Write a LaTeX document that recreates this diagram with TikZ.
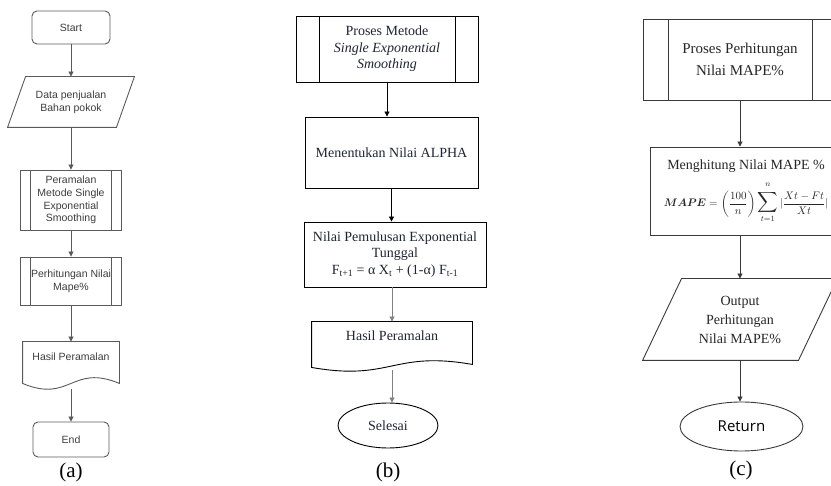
\documentclass[tikz,border=0pt]{standalone}
\usepackage{fontspec}
\setmainfont{Liberation Serif}
\newfontfamily\arialfont{Liberation Sans}
\newfontfamily\returnfont{Open Sans}
\usepackage{amsmath}
\usepackage{graphicx}
\usetikzlibrary{shapes.geometric,arrows.meta}

\definecolor{linea}{HTML}{5A5A5A}
\definecolor{texta}{HTML}{3C3C3C}
\definecolor{textb}{HTML}{1E2433}
\definecolor{linec}{HTML}{3A3A3A}

\tikzset{
  procbox/.style={draw, rectangle, inner sep=0pt, align=center},
  textbody/.style={inner sep=0pt, align=center},
  subproc/.style={procbox,
    path picture={
      \draw ([xshift=#1]path picture bounding box.north west) --
        ([xshift=#1]path picture bounding box.south west);
      \draw ([xshift=-#1]path picture bounding box.north east) --
        ([xshift=-#1]path picture bounding box.south east);
    }},
  flow/.style={-{Triangle[length=5pt,width=5pt]}},
  fonta/.style={font=\arialfont\fontsize{10.5}{12.7}\selectfont, text=texta},
  fontb/.style={font=\fontsize{14}{16.5}\selectfont, text=textb},
  fontc/.style={font=\fontsize{14}{19}\selectfont, text=black!85},
  caption/.style={inner sep=0pt, font=\fontsize{21}{24}\selectfont},
}

\begin{document}
\begin{tikzpicture}[x=1pt,y=-1pt,line width=0.9pt]
\useasboundingbox (0,0) rectangle (831,486);
\clip (0,0) rectangle (831,486);

% (a) Flowchart utama
\begin{scope}[draw=linea]
	\node[procbox, fonta, rounded corners=5pt, minimum width=78pt, minimum height=33pt] (startA) at (71,27.5) {Start};
	\node[textbody, fonta, minimum width=108pt, minimum height=50pt] (dataA) at (71,102) {Data penjualan\\Bahan pokok};
	\draw ([xshift=-9pt]dataA.south west) -- ([xshift=9pt]dataA.north west) --
		([xshift=9pt]dataA.north east) -- ([xshift=-9pt]dataA.south east) -- cycle;
	\node[subproc=10pt, fonta, minimum width=101pt, minimum height=60pt] (ramalA) at (71,200) {Peramalan\\Metode Single\\Exponential\\Smoothing};
	\node[subproc=10pt, fonta, minimum width=101pt, minimum height=48pt] (mapeA) at (71,281) {Perhitungan Nilai\\Mape\%};
	\node[textbody, fonta, minimum width=96pt, minimum height=30pt] (hasilA) at (71,357) {Hasil Peramalan};
	\draw (hasilA.north west) -- ([yshift=-11pt]hasilA.south west)
		.. controls +(48,20) and +(-48,-20) .. ([yshift=-11pt]hasilA.south east) --
		(hasilA.north east) -- cycle;
	\node[procbox, fonta, rounded corners=5pt, minimum width=76pt, minimum height=35pt] (endA) at (71,439.5) {End};

	\draw[flow, linea] (startA) -- (dataA);
	\draw[flow, linea] (dataA) -- (ramalA);
	\draw[flow, linea] (ramalA) -- (mapeA);
	\draw[flow, linea] (mapeA) -- (hasilA.north);
	\draw[flow, linea] ([yshift=-17pt]hasilA.south) -- (endA);
\end{scope}
\node[caption] (capA) at (71,472) {(a)};

% (b) Proses metode single exponential smoothing
\node[subproc=23pt, fontb, minimum width=182pt, minimum height=66pt] (procB) at (387,49) {Proses Metode\\\textit{Single Exponential}\\\textit{Smoothing}};
\node[procbox, fontb, minimum width=173pt, minimum height=71pt] (alphaB) at (391.5,152.5) {Menentukan Nilai ALPHA};
\node[procbox, fontb, minimum width=182pt, minimum height=65pt] (nilaiB) at (395,254.5) {Nilai Pemulusan Exponential\\Tunggal\\F\textsubscript{t+1} = α X\textsubscript{t} + (1-α) F\textsubscript{t-1}};
\node[textbody, fontb, minimum width=160pt, minimum height=28pt] (hasilB) at (392,336) {Hasil Peramalan};
\draw (hasilB.north west) -- ([yshift=-17pt]hasilB.south west)
	.. controls +(80,14) and +(-80,-14) .. ([yshift=-14pt]hasilB.south east) --
	(hasilB.north east) -- cycle;
\node[draw, ellipse, inner sep=0pt, fontb, minimum width=100pt, minimum height=45pt] (selesaiB) at (388,425.5) {Selesai};

\draw[flow] (procB.south) -- (procB.south |- alphaB.north);
\draw[flow] (alphaB.south) -- (alphaB.south |- nilaiB.north);
\draw[flow, gray] (nilaiB.south -| hasilB.north) -- (hasilB.north);
\draw[flow, gray] ([yshift=-20pt]hasilB.south) -- (hasilB.south |- selesaiB.north);
\node[caption] (capB) at (388,472) {(b)};

% (c) Proses perhitungan nilai MAPE
\begin{scope}[draw=linec]
	\node[subproc=25pt, fontc, font=\fontsize{15}{22}\selectfont, minimum width=194pt, minimum height=81pt] (procC) at (740,59.5) {Proses Perhitungan\\Nilai MAPE\%};
	\node[procbox, fontc, minimum width=192pt, minimum height=88pt] (hitungC) at (746,191) {Menghitung Nilai MAPE \%\\[9pt]
		{\fontsize{11}{13}\selectfont$\displaystyle\boldsymbol{MAPE}=\left(\frac{100}{n}\right)\mathop{\scalebox{1.3}{$\displaystyle\sum$}}\limits_{t=1}^{\raisebox{2.5pt}{$\scriptstyle n$}}|\frac{Xt-Ft}{Xt}|$}};
	\node[textbody, fontc, minimum width=155pt, minimum height=81pt] (outC) at (740,319.5) {Output\\Perhitungan\\Nilai MAPE\%};
	\draw ([xshift=-19.5pt]outC.south west) -- ([xshift=19.5pt]outC.north west) --
		([xshift=19.5pt]outC.north east) -- ([xshift=-19.5pt]outC.south east) -- cycle;
	\node[draw, ellipse, inner sep=0pt, font=\returnfont\fontsize{15}{18}\selectfont, minimum width=123pt, minimum height=49pt] (returnC) at (741.5,426.5) {Return};

	\draw[flow, linec] (procC.south) -- (procC.south |- hitungC.north);
	\draw[flow, linec] (hitungC.south -| outC.north) -- (outC.north);
	\draw[flow, linec] (outC.south) -- (outC.south |- returnC.north);
\end{scope}
\node[caption] (capC) at (741,470) {(c)};

\end{tikzpicture}
\end{document}
